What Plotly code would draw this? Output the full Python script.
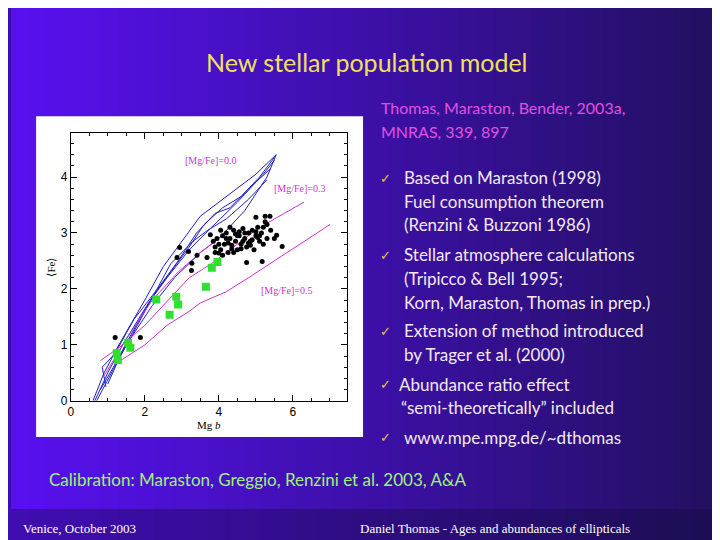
import plotly.graph_objects as go

# blue model grid ([Mg/Fe]=0.0)
blue_a_x = [0.6, 0.9, 1.3, 2.0, 2.5, 3.0, 3.5, 4.0, 4.5, 5.0, 5.55]
blue_a_y = [0.0, 0.5, 1.0, 1.8, 2.4, 2.85, 3.3, 3.55, 3.8, 4.05, 4.4]
blue_b_x = [0.65, 1.0, 1.4, 2.1, 2.6, 3.2, 3.8, 4.5, 5.2, 5.5]
blue_b_y = [0.0, 0.5, 1.0, 1.75, 2.2, 2.7, 3.1, 3.55, 4.05, 4.3]
blue_c_x = [0.7, 1.1, 1.5, 2.2, 2.8, 3.5, 4.0, 4.7, 5.3, 5.55]
blue_c_y = [0.0, 0.5, 1.0, 1.7, 2.2, 2.65, 2.9, 3.4, 4.0, 4.4]
blue_d_x = [0.95, 0.85, 1.2, 1.7, 2.4, 2.9, 3.4, 3.9, 4.3, 4.9, 5.4]
blue_d_y = [0.25, 0.6, 0.85, 1.45, 2.05, 2.5, 3.0, 3.35, 3.45, 3.85, 4.15]
blue_e_x = [1.0, 1.3, 1.8, 2.3, 2.7, 3.3, 3.7, 4.2, 4.8, 5.3]
blue_e_y = [0.3, 0.75, 1.35, 1.95, 2.45, 2.85, 3.05, 3.25, 3.6, 3.95]
blue_f_x = [0.8, 1.15, 1.6, 2.2, 2.75, 3.2, 3.6, 4.1, 4.6, 5.1, 5.5]
blue_f_y = [0.2, 0.6, 1.15, 1.85, 2.35, 2.75, 3.15, 3.45, 3.65, 4.0, 4.35]
blue_lines = [(blue_a_x, blue_a_y), (blue_b_x, blue_b_y), (blue_c_x, blue_c_y),
              (blue_d_x, blue_d_y), (blue_e_x, blue_e_y), (blue_f_x, blue_f_y)]

# magenta model lines
pink0_x = [0.9, 1.5, 2.2, 2.9, 3.5, 4.0]
pink0_y = [0.45, 1.1, 1.8, 2.3, 2.65, 2.9]
pink3_x = [0.8, 1.3, 2.0, 2.5, 3.2, 3.8, 4.5, 5.0, 5.5, 6.3]
pink3_y = [0.72, 0.95, 1.35, 1.7, 2.2, 2.45, 2.8, 3.05, 3.25, 3.55]
pink5_x = [1.3, 2.0, 2.6, 3.2, 3.5, 4.2, 4.8, 5.5, 6.2, 7.0]
pink5_y = [0.7, 1.0, 1.35, 1.6, 1.75, 1.95, 2.2, 2.5, 2.8, 3.15]

# galaxies (black) and globular clusters (green)
gal_x = [1.20, 1.88, 2.94, 2.87, 3.18, 3.27, 3.26, 3.41, 3.68, 3.77, 4.00, 4.75, 5.17, 5.71,
         5.00, 5.25, 5.38, 5.56, 3.85, 3.9, 3.95, 4.05, 4.1, 4.15, 4.2, 4.25, 4.3, 4.35,
         4.4, 4.45, 4.5, 4.55, 4.6, 4.65, 4.7, 4.75, 4.8, 4.85, 4.9, 4.95, 5.0, 5.05,
         5.1, 5.15, 5.2, 5.3, 5.4, 5.5, 3.9, 4.0, 4.1, 4.2, 4.3, 4.4, 4.5, 4.6, 4.7, 4.8,
         4.9, 5.0, 5.1, 5.2, 5.3, 4.05, 4.25, 4.45, 4.65, 4.85, 5.05, 5.25, 4.35, 4.55]
gal_y = [1.13, 1.13, 2.74, 2.56, 2.67, 2.46, 2.33, 2.60, 2.56, 2.97, 2.64, 2.47, 2.49, 2.76,
         3.28, 3.30, 3.30, 2.96, 2.85, 2.75, 2.9, 2.7, 2.95, 2.8, 3.0, 2.65, 2.9, 2.78,
         3.05, 2.85, 2.7, 2.95, 2.8, 3.08, 2.9, 2.75, 3.0, 2.85, 3.05, 2.7, 2.95, 3.1,
         2.85, 3.0, 2.8, 3.15, 3.05, 2.9, 2.65, 2.8, 2.6, 2.9, 3.1, 2.65, 2.95, 2.72, 3.0,
         2.82, 2.88, 3.02, 2.95, 3.1, 2.9, 3.05, 2.82, 2.98, 2.85, 2.78, 2.92, 3.2, 2.72, 3.02]
gc_x = [1.24, 1.27, 1.55, 1.61, 2.31, 2.67, 2.85, 2.90, 3.65, 3.81, 3.96]
gc_y = [0.85, 0.73, 1.04, 0.95, 1.81, 1.54, 1.86, 1.72, 2.04, 2.38, 2.48]

x_ticks = [0, 2, 4, 6]
y_ticks = [0, 1, 2, 3, 4]

fig = go.Figure()
for bx, by in blue_lines:
    fig.add_trace(go.Scatter(x=bx, y=by, mode="lines", line=dict(color="#2020c0", width=1)))
for px, py in [(pink0_x, pink0_y), (pink3_x, pink3_y), (pink5_x, pink5_y)]:
    fig.add_trace(go.Scatter(x=px, y=py, mode="lines", line=dict(color="#d030d0", width=1)))
fig.add_trace(go.Scatter(x=gal_x, y=gal_y, mode="markers",
                         marker=dict(color="black", size=5)))
fig.add_trace(go.Scatter(x=gc_x, y=gc_y, mode="markers",
                         marker=dict(color="#30e030", size=8, symbol="square")))

# slide background gradient
shapes = []
n = 40
for i in range(n):
    t = i / (n - 1)
    r = int(0x58 + (0x22 - 0x58) * t)
    g = 0x10
    b = int(0xf0 + (0x60 - 0xf0) * t)
    shapes.append(dict(type="rect", xref="paper", yref="paper", x0=i / n, x1=(i + 1) / n + 0.001,
                       y0=0, y1=1, line_width=0, fillcolor=f"rgb({r},{g},{b})", layer="below"))
shapes.append(dict(type="rect", xref="paper", yref="paper", x0=0, x1=1, y0=0, y1=0.06,
                   line_width=0, fillcolor="rgba(20,10,60,0.35)", layer="below"))
shapes.append(dict(type="rect", xref="paper", yref="paper", x0=0.035, x1=0.491, y0=0.195, y1=0.797,
                   line_width=0, fillcolor="white", layer="below"))
fig.update_layout(shapes=shapes)

ann = []
def txt(x, y, s, size, color, family="Lato", xa="left"):
    ann.append(dict(x=x / 720, y=1 - y / 540, xref="paper", yref="paper", text=s, showarrow=False,
                    xanchor=xa, yanchor="middle", font=dict(size=size, color=color, family=family)))

txt(357, 55, "New stellar population model", 25, "#f0e060", xa="center")
txt(370, 101, "Thomas, Maraston, Bender, 2003a,", 16, "#e050e0")
txt(370, 125, "MNRAS, 339, 897", 16, "#e050e0")
bullets = [(172, "✓", "Based on Maraston (1998)"), (196, "", "Fuel consumption theorem"),
           (219, "", "(Renzini & Buzzoni 1986)"), (250, "✓", "Stellar atmosphere calculations"),
           (274, "", "(Tripicco & Bell 1995;"), (298, "", "Korn, Maraston, Thomas in prep.)"),
           (327, "✓", "Extension of method introduced"), (351, "", "by Trager et al. (2000)"),
           (381, "✓", "Abundance ratio effect"), (405, "", "“semi-theoretically” included"),
           (435, "✓", "www.mpe.mpg.de/~dthomas")]
for y, mark, s in bullets:
    if mark:
        txt(369, y, mark, 13, "#f0c040")
    xs = 388 if s.startswith("Abundance") else 393
    if not mark and s.startswith("“"):
        xs = 390
    txt(xs, y, s, 17, "#f4e8f4")
txt(36, 478, "Calibration: Maraston, Greggio, Renzini et al. 2003, A&A", 17, "#a0f080")
txt(10, 527, "Venice, October 2003", 13, "white", family="Liberation Serif")
txt(348, 527, "Daniel Thomas - Ages and abundances of ellipticals", 13, "white",
    family="Liberation Serif")

for x, y, s in [(3.77, 4.29, "[Mg/Fe]=0.0"), (6.19, 3.8, "[Mg/Fe]=0.3"), (5.83, 1.98, "[Mg/Fe]=0.5")]:
    ann.append(dict(x=x, y=y, text=s, showarrow=False, font=dict(size=10, color="#d030d0",
                    family="Liberation Serif")))
fig.update_layout(annotations=ann)

axis_common = dict(showgrid=False, zeroline=False, showline=True, linecolor="black", mirror="ticks",
                   ticks="inside", ticklen=6, tickcolor="black",
                   minor=dict(ticks="inside", ticklen=3, tickcolor="black"),
                   tickfont=dict(size=12, color="black", family="Liberation Sans"))
fig.update_xaxes(range=[0, 7.45], tickvals=x_ticks, domain=[60 / 720, 337 / 720],
                 title=dict(text="Mg <i>b</i>", standoff=2, font=dict(size=11, color="black",
                            family="Liberation Serif")), minor_dtick=0.5, **axis_common)
fig.update_yaxes(range=[0, 4.78], tickvals=y_ticks, domain=[1 - 398 / 540, 1 - 127 / 540],
                 title=dict(text="⟨Fe⟩", standoff=2, font=dict(size=11, color="black",
                            family="Liberation Serif")), minor_dtick=0.2, **axis_common)
fig.update_layout(width=720, height=540, margin=dict(l=0, r=0, t=0, b=0), showlegend=False,
                  plot_bgcolor="white", paper_bgcolor="#3a10b0")
fig.write_html("out.html")
